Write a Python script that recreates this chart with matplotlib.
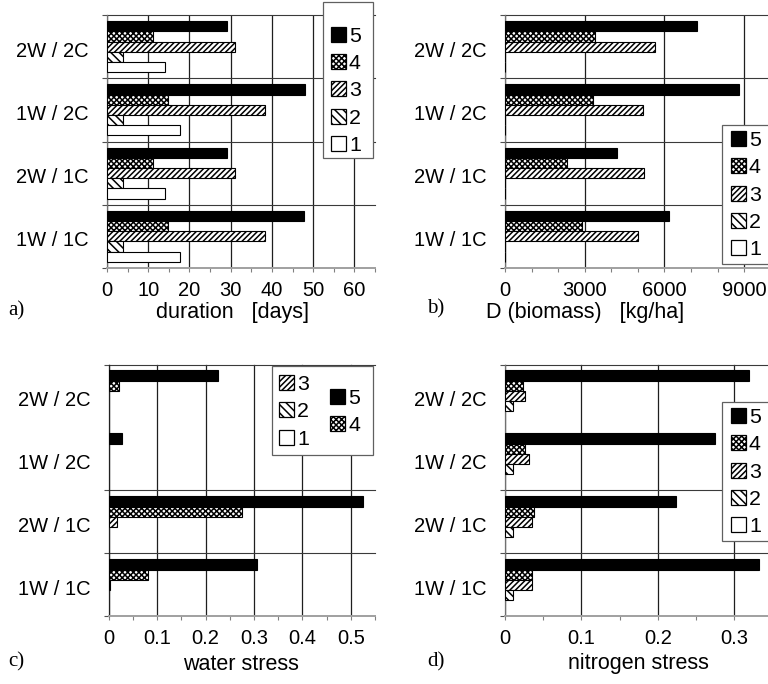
import matplotlib
matplotlib.use('Agg')
import matplotlib.pyplot as plt
from matplotlib.patches import Patch, Rectangle
from matplotlib.ticker import MultipleLocator, FixedLocator, NullFormatter, FixedFormatter, FuncFormatter
import numpy as np

plt.rcParams['font.family'] = ['Liberation Sans', 'DejaVu Sans']
plt.rcParams['hatch.linewidth'] = 1.1

W, H, DPI = 768, 684, 100

# ---------------- data ----------------
categories = ['1W / 1C', '2W / 1C', '1W / 2C', '2W / 2C']   # bottom -> top
series = ['5', '4', '3', '2', '1']                          # drawn top -> bottom in each group

duration_days = {
    '5': [47.7, 29.0, 48.1, 29.0],
    '4': [14.8, 11.1, 14.8, 11.2],
    '3': [38.3, 31.0, 38.3, 31.0],
    '2': [4.0, 4.0, 4.0, 4.0],
    '1': [17.6, 14.0, 17.6, 14.1],
}
biomass_kg_ha = {
    '5': [6157, 4229, 8818, 7240],
    '4': [2898, 2338, 3296, 3383],
    '3': [5013, 5249, 5187, 5660],
    '2': [15, 15, 15, 15],
    '1': [15, 15, 15, 15],
}
water_stress = {
    '5': [0.306, 0.525, 0.0275, 0.2266],
    '4': [0.082, 0.276, 0.0, 0.022],
    '3': [0.002, 0.018, 0.0, 0.0],
    '2': [0.0, 0.0, 0.0, 0.0],
    '1': [0.0, 0.0, 0.0, 0.0],
}
nitrogen_stress = {
    '5': [0.3316, 0.2238, 0.2744, 0.3194],
    '4': [0.035, 0.0375, 0.0257, 0.024],
    '3': [0.035, 0.035, 0.031, 0.0257],
    '2': [0.011, 0.011, 0.011, 0.011],
    '1': [0.0, 0.0, 0.0, 0.0],
}

# ---------------- styles ----------------
BACKSLASH = chr(92)
face = {'5': 'black', '4': 'white', '3': 'white', '2': 'white', '1': 'white'}
hatch = {'5': None, '4': 'xxxxxx', '3': '//////', '2': BACKSLASH * 4, '1': None}

fig = plt.figure(figsize=(W / DPI, H / DPI), dpi=DPI)


def fig_rect(l, t, r, b):
    return [l / W, 1 - b / H, (r - l) / W, (b - t) / H]


def draw_panel(ax, data, xmax, major, minor, ylines, left_color):
    h, gap = 0.162, 0.095
    base = np.arange(len(categories))
    for i, s in enumerate(series):
        vals = np.asarray(data[s], dtype=float)
        y = base + 1 - gap - h / 2 - i * h
        lw = np.where(vals > 0, 0.8, 0.0)
        ax.barh(y, vals, height=h, color=face[s], edgecolor='black',
                hatch=hatch[s], linewidth=lw, zorder=3)
    ax.set_xlim(0, xmax)
    ax.set_ylim(0, len(categories))
    ax.set_axisbelow(True)
    ax.xaxis.set_major_locator(MultipleLocator(major))
    ax.xaxis.set_minor_locator(MultipleLocator(minor))
    ax.xaxis.set_major_formatter(FuncFormatter(lambda v, p: f'{v:g}'))
    ax.grid(axis='x', which='major', color='#1e1e1e', lw=0.9)
    for yl in ylines:
        ax.axhline(yl, color='#3a3a3a', lw=0.8, zorder=1, clip_on=False)
    ax.yaxis.set_major_locator(FixedLocator([0] + list(ylines)))
    ax.yaxis.set_major_formatter(NullFormatter())
    ax.yaxis.set_minor_locator(FixedLocator(base + 0.46))
    ax.yaxis.set_minor_formatter(FixedFormatter(categories))
    ax.tick_params(axis='y', which='major', length=3.6, width=0.8, color='#505050')
    ax.tick_params(axis='y', which='minor', length=0, pad=13, labelsize=14.5)
    ax.tick_params(axis='x', which='both', length=3, width=0.8, color='#808080')
    ax.tick_params(axis='x', which='major', labelsize=14.5, pad=6.5)
    for sp in ('top', 'right'):
        ax.spines[sp].set_visible(False)
    ax.spines['bottom'].set_color('#a0a0a0')
    ax.spines['bottom'].set_linewidth(1.4)
    ax.spines['left'].set_color(left_color)
    ax.spines['left'].set_linewidth(0.9)


def legend_handles(keys):
    return [Patch(facecolor=face[k], edgecolor='black', hatch=hatch[k], linewidth=0.9) for k in keys]


def add_legend(ax, keys, x, y, fs=15.4):
    leg = ax.legend(legend_handles(keys), keys, loc='upper left',
                    bbox_to_anchor=(x / W, 1 - y / H), bbox_transform=fig.transFigure,
                    frameon=False, borderpad=0, borderaxespad=0,
                    handlelength=0.7, handleheight=0.7, handletextpad=0.15,
                    labelspacing=0.39, fontsize=fs)
    return leg


def add_frame(ax, l, t, r, b):
    rect = Rectangle((l / W, 1 - b / H), (r - l) / W, (b - t) / H, transform=fig.transFigure,
                     facecolor='white', edgecolor='#606060', lw=0.9, zorder=4.9, clip_on=False)
    ax.add_artist(rect)


ax_a = fig.add_axes(fig_rect(107, 15, 375, 268))
ax_b = fig.add_axes(fig_rect(505, 15, 768, 268))
ax_c = fig.add_axes(fig_rect(108.7, 364.5, 375, 616.3))
ax_d = fig.add_axes(fig_rect(505, 364.5, 768, 616.3))

draw_panel(ax_a, duration_days, 65, 10, 5, [1, 2, 3, 4], '#707070')
draw_panel(ax_b, biomass_kg_ha, 9900, 3000, 1000, [1, 2, 3, 4], '#707070')
draw_panel(ax_c, water_stress, 0.55, 0.1, 0.05, [1, 2, 4], '#202020')
draw_panel(ax_d, nitrogen_stress, 0.344, 0.1, 0.05, [1, 2, 4], '#707070')

# legends
add_frame(ax_a, 323, 1.5, 373, 158)
add_legend(ax_a, series, 330.7, 26.7)

add_frame(ax_b, 722.3, 125, 800, 264)
add_legend(ax_b, series, 730.7, 131)

add_frame(ax_d, 722.3, 402, 800, 541)
add_legend(ax_d, series, 730.7, 408)

add_frame(ax_c, 272, 366, 373, 455)
leg_c1 = add_legend(ax_c, ['3', '2', '1'], 279, 375)
ax_c.add_artist(leg_c1)
add_legend(ax_c, ['5', '4'], 330, 389)

# axis titles and panel letters
fig.text(232 / W, 1 - 312.5 / H, 'duration   [days]', ha='center', va='center', fontsize=15.5)
fig.text(585 / W, 1 - 312.5 / H, 'D (biomass)   [kg/ha]', ha='center', va='center', fontsize=15.5)
fig.text(241 / W, 1 - 664 / H, 'water stress', ha='center', va='center', fontsize=15.5)
fig.text(638 / W, 1 - 664 / H, 'nitrogen stress', ha='center', va='center', fontsize=15.5)

serif = ['Liberation Serif', 'DejaVu Serif']
fig.text(8 / W, 1 - 311 / H, 'a)', ha='left', va='center', fontsize=15, family=serif)
fig.text(427 / W, 1 - 309 / H, 'b)', ha='left', va='center', fontsize=15, family=serif)
fig.text(8 / W, 1 - 662 / H, 'c)', ha='left', va='center', fontsize=15, family=serif)
fig.text(427 / W, 1 - 662 / H, 'd)', ha='left', va='center', fontsize=15, family=serif)

fig.savefig('out.png', dpi=DPI)
